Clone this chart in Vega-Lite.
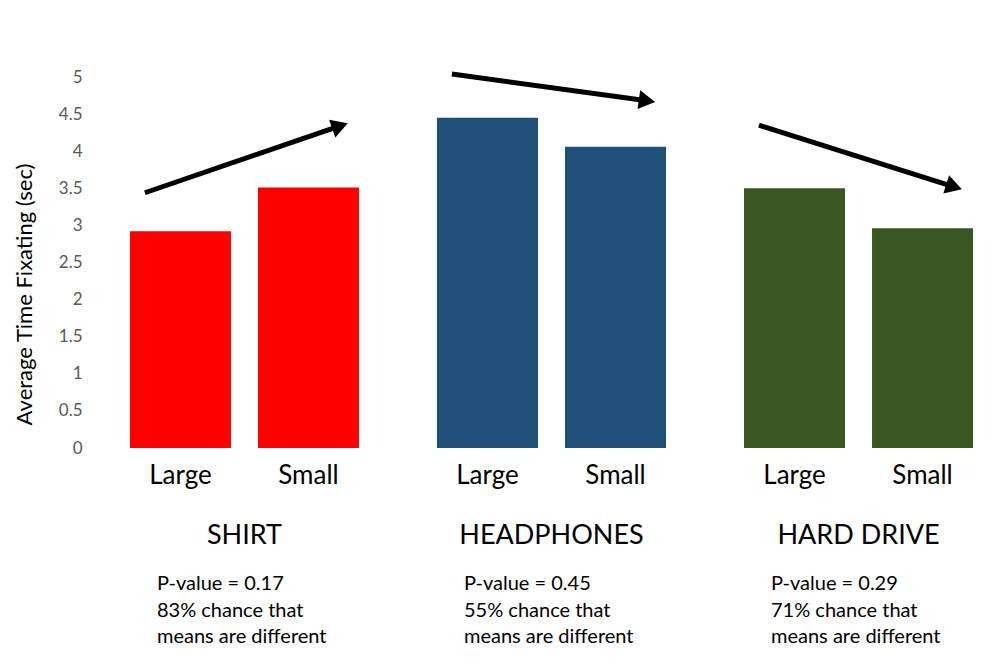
{
  "$schema": "https://vega.github.io/schema/vega-lite/v6.json",
  "width": 883,
  "height": 371,
  "autosize": "none",
  "padding": {"left": 110, "top": 77, "right": 13, "bottom": 217},
  "background": "white",
  "config": {
    "view": {"stroke": null},
    "font": "Lato",
    "axis": {"grid": false, "domain": false, "ticks": false},
    "axisY": {
      "labelOverlap": false, "labelFontSize": 17, "labelColor": "#595959", "labelPadding": 28,
      "titleFontSize": 22, "titleFontWeight": "normal", "titleColor": "black",
      "titleX": -86, "titleY": 217, "titleAlign": "center", "titleBaseline": "middle"
    }
  },
  "datasets": {
    "bars": [
      {"product": "SHIRT", "size": "Large", "time": 2.92},
      {"product": "SHIRT", "size": "Small", "time": 3.51},
      {"product": "HEADPHONES", "size": "Large", "time": 4.45},
      {"product": "HEADPHONES", "size": "Small", "time": 4.06},
      {"product": "HARD DRIVE", "size": "Large", "time": 3.5},
      {"product": "HARD DRIVE", "size": "Small", "time": 2.96}
    ],
    "notes": [
      {"product": "SHIRT", "note": "P-value = 0.17\n83% chance that\nmeans are different"},
      {"product": "HEADPHONES", "note": "P-value = 0.45\n55% chance that\nmeans are different"},
      {"product": "HARD DRIVE", "note": "P-value = 0.29\n71% chance that\nmeans are different"}
    ],
    "arrows": [
      {"product": "SHIRT", "end": "start", "t": 3.44},
      {"product": "SHIRT", "end": "finish", "t": 4.34},
      {"product": "HEADPHONES", "end": "start", "t": 5.04},
      {"product": "HEADPHONES", "end": "finish", "t": 4.68},
      {"product": "HARD DRIVE", "end": "start", "t": 4.35},
      {"product": "HARD DRIVE", "end": "finish", "t": 3.52}
    ]
  },
  "encoding": {
    "x": {
      "field": "product", "type": "nominal", "sort": ["SHIRT", "HEADPHONES", "HARD DRIVE"],
      "scale": {"paddingInner": 0.254, "paddingOuter": 0.065},
      "axis": {"title": null, "labelAngle": 0, "labelFontSize": 27, "labelColor": "black", "labelPadding": 74, "labelLimit": 0}
    }
  },
  "layer": [
    {
      "data": {"name": "bars"},
      "mark": {"type": "bar"},
      "encoding": {
        "xOffset": {"field": "size", "type": "nominal", "scale": {"type": "band", "paddingInner": 0.211, "paddingOuter": 0}},
        "y": {
          "field": "time", "type": "quantitative",
          "scale": {"domain": [0, 5], "nice": false},
          "axis": {"values": [0, 0.5, 1, 1.5, 2, 2.5, 3, 3.5, 4, 4.5, 5], "format": ".1~f", "title": "Average Time Fixating (sec)"}
        },
        "color": {
          "field": "product", "type": "nominal", "legend": null,
          "scale": {"domain": ["SHIRT", "HEADPHONES", "HARD DRIVE"], "range": ["#FF0000", "#1F4E79", "#385723"]}
        }
      }
    },
    {
      "data": {"name": "bars"},
      "mark": {"type": "text", "fontSize": 26, "baseline": "alphabetic", "dy": 36, "color": "black"},
      "encoding": {
        "xOffset": {"field": "size", "type": "nominal", "scale": {"type": "band", "paddingInner": 0.211, "paddingOuter": 0}},
        "y": {"datum": 0, "type": "quantitative", "axis": {"values": [0, 0.5, 1, 1.5, 2, 2.5, 3, 3.5, 4, 4.5, 5], "format": ".1~f", "title": "Average Time Fixating (sec)"}},
        "text": {"field": "size"}
      }
    },
    {
      "data": {"name": "notes"},
      "mark": {"type": "text", "fontSize": 20, "align": "left", "baseline": "alphabetic", "lineBreak": "\n", "lineHeight": 26.5, "dx": 27, "dy": 142, "color": "black"},
      "encoding": {
        "x": {"field": "product", "type": "nominal", "bandPosition": 0, "sort": ["SHIRT", "HEADPHONES", "HARD DRIVE"]},
        "y": {"datum": 0, "type": "quantitative", "axis": {"values": [0, 0.5, 1, 1.5, 2, 2.5, 3, 3.5, 4, 4.5, 5], "format": ".1~f", "title": "Average Time Fixating (sec)"}},
        "text": {"field": "note"}
      }
    },
    {
      "data": {"name": "arrows"},
      "mark": {"type": "line", "color": "black", "strokeWidth": 5},
      "encoding": {
        "xOffset": {"field": "end", "type": "nominal", "sort": ["start", "finish"], "scale": {"type": "point", "padding": 0.087, "align": 0.44}},
        "y": {"field": "t", "type": "quantitative", "axis": {"values": [0, 0.5, 1, 1.5, 2, 2.5, 3, 3.5, 4, 4.5, 5], "format": ".1~f", "title": "Average Time Fixating (sec)"}},
        "detail": {"field": "product"}
      }
    },
    {
      "data": {"name": "arrows"},
      "transform": [{"filter": "datum.end === 'finish'"}],
      "mark": {"type": "point", "shape": "triangle-right", "filled": true, "color": "black", "size": 360, "opacity": 1},
      "encoding": {
        "xOffset": {"field": "end", "type": "nominal", "sort": ["start", "finish"], "scale": {"type": "point", "padding": 0.087, "align": 0.44, "domain": ["start", "finish"]}},
        "y": {"field": "t", "type": "quantitative", "axis": {"values": [0, 0.5, 1, 1.5, 2, 2.5, 3, 3.5, 4, 4.5, 5], "format": ".1~f", "title": "Average Time Fixating (sec)"}},
        "angle": {
          "condition": [
            {"test": "datum.product === 'SHIRT'", "value": -19},
            {"test": "datum.product === 'HEADPHONES'", "value": 8}
          ],
          "value": 17.5
        }
      }
    }
  ],
  "resolve": {"scale": {"xOffset": "independent"}}
}
